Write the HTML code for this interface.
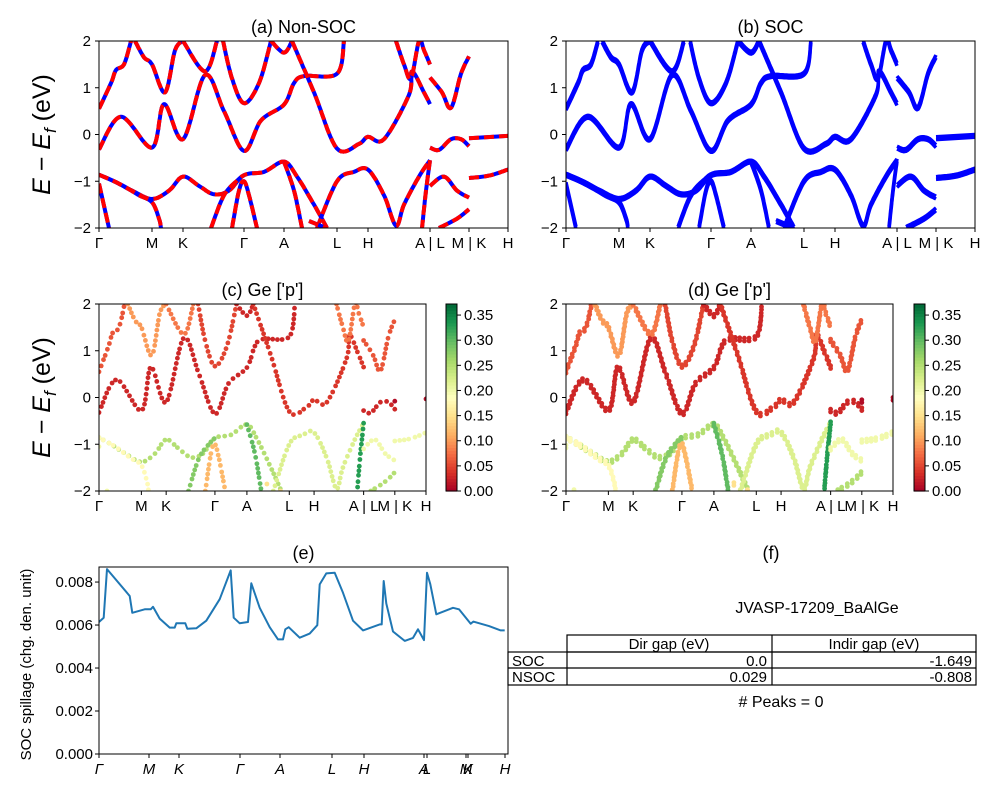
<!DOCTYPE html>
<html><head><meta charset="utf-8"><style>
body{margin:0;background:#fff}
svg{display:block;font-family:"Liberation Sans","DejaVu Sans",sans-serif}
</style></head><body>
<svg id="fig" width="1000" height="800" viewBox="0 0 1000 800"></svg>
<script>
// ---- data ----
const kTickPos = [0, 53, 84, 145, 185, 238, 269, 331, 370, 409];
const kTickLabels = ["Γ","M","K","Γ","A","L","H","A | L","M | K","H"];
const eTicks = [2, 1, 0, -1, -2];
const b1 = [[0,-0.86],[15,-1.0],[33,-1.2],[53,-1.38],[70,-1.2],[84,-0.9],[100,-1.1],[115,-1.28],[130,-1.2],[145,-0.87],[165,-0.8],[185,-0.58],[198,-0.9],[215,-1.5],[228,-2.0]];
const b2 = [[0,-0.86],[20,-1.05],[40,-1.3],[53,-1.45],[60,-1.8],[62,-2.0]];
const b3 = [[0,-1.05],[10,-2.0]];
const b4 = [[112,-2.0],[125,-1.3],[140,-0.95],[145,-0.87]];
const b5 = [[133,-2.0],[140,-1.2],[145,-1.0],[150,-1.3],[158,-2.0]];
const b6 = [[185,-0.58],[195,-1.2],[203,-2.0]];
const b7 = [[218,-2.0],[238,-1.0],[255,-0.8],[269,-0.75],[285,-1.3],[297,-1.95],[305,-1.5],[320,-0.9],[331,-0.55]];
const b8 = [[331,-0.55],[327,-1.2],[323,-2.0]];
const b9 = [[210,-1.85],[227,-2.0]];
const c1 = [[0,-0.32],[22,0.38],[53,-0.28],[65,0.65],[84,-0.1],[106,1.27],[125,0.5],[145,-0.35],[162,0.3],[185,0.64],[195,1.1],[205,1.25],[238,1.3],[245,2.0]];
const c2 = [[0,0.55],[12,1.1],[17,1.38],[25,1.5],[32,2.0]];
const c3 = [[36,2.0],[45,1.65],[53,1.5],[66,0.9],[76,1.8],[84,2.0]];
const c4 = [[84,2.0],[106,1.35],[118,2.0]];
const c5 = [[124,2.0],[133,1.2],[145,0.67],[160,1.1],[172,2.0]];
const c6 = [[172,2.0],[185,1.75],[193,2.0]];
const c7 = [[193,2.0],[215,0.9],[238,-0.3],[260,-0.2],[269,-0.05],[285,-0.1],[310,0.85],[313,1.35],[325,0.9],[331,0.65]];
const c8 = [[297,2.0],[305,1.5],[312,1.2],[320,2.0],[325,1.8],[331,1.5]];
const s1 = [[331,1.22],[343,0.9],[352,0.57],[362,1.3],[370,1.67]];
const s2 = [[331,-0.28],[340,-0.33],[352,-0.1],[362,-0.1],[370,-0.25]];
const s3 = [[331,-1.1],[345,-0.9],[358,-1.2],[370,-1.35]];
const s4 = [[340,-2.0],[358,-1.8],[370,-1.6]];
const t1 = [[370,-0.08],[409,-0.03]];
const t2 = [[370,-0.93],[390,-0.88],[409,-0.75]];
const bands = [b1,b2,b3,b4,b5,b6,b7,b8,b9,c1,c2,c3,c4,c5,c6,c7,c8,s1,s2,s3,s4,t1,t2];
const geWeights = [0.25,0.18,0.2,0.28,0.12,0.3,0.22,0.33,0.15,0.03,0.06,0.1,0.08,0.05,0.03,0.04,0.08,0.06,0.03,0.2,0.25,0.01,0.2];
const cbTicks = [0,0.05,0.1,0.15,0.2,0.25,0.3,0.35];
const spillK = [0,4.7,8,30.7,33.3,45.7,51.7,54,60.7,70.7,75.7,77.3,86.3,88.3,97.3,107.3,120.7,131.7,134.7,140.7,149,152.3,160.7,170.7,179,184,186.3,189.7,200.7,210.7,218.3,220.7,227.3,235.7,244,254,264,280.7,282.7,284.7,287.3,294,305.7,314,319,325,328,331.3,337.3,354,360,371.7,374.3,390,401.7,405.7];
const spillV = [.00614,.00634,.0086,.00735,.00657,.00673,.00673,.00685,.0063,.00588,.00588,.00608,.00608,.00583,.00585,.0062,.0072,.00854,.00634,.00608,.00614,.00794,.0068,.0059,.00533,.00533,.0058,.0059,.00541,.0056,.00599,.00789,.0084,.00843,.0075,.0062,.00575,.00603,.00603,.00805,.0070,.0057,.00526,.0054,.0058,.0053,.00843,.0079,.0065,.0068,.00673,.00606,.00616,.00595,.00575,.00575];
const spillTickPos = [0,50,80,141,181,233,265,325,328,367,369,406];
const spillTickLabels = ["Γ","M","K","Γ","A","L","H","A","L","M","K","H"];
const spillYTicks = [0,0.002,0.004,0.006,0.008];

// ---- helpers ----
const svg = document.getElementById('fig');
const NS = 'http://www.w3.org/2000/svg';
function mk(tag, attrs, parent){const e=document.createElementNS(NS,tag);for(const k in attrs)e.setAttribute(k,attrs[k]);(parent||svg).appendChild(e);return e;}
function txt(x,y,s,size,anchor,parent,extra){const t=mk('text',Object.assign({x:x,y:y,'font-size':size,'text-anchor':anchor||'middle',fill:'#000'},extra||{}),parent);t.textContent=s;return t;}
function lerp(a,b,t){return a+(b-a)*t;}
// Catmull-Rom smoothing of screen points
function smooth(P){
  if(P.length<3)return P;
  const out=[];
  for(let i=0;i<P.length-1;i++){
    const p0=P[Math.max(0,i-1)],p1=P[i],p2=P[i+1],p3=P[Math.min(P.length-1,i+2)];
    const n=Math.max(2,Math.round(Math.hypot(p2[0]-p1[0],p2[1]-p1[1])/2));
    for(let s=0;s<n;s++){const t=s/n,t2=t*t,t3=t2*t;
      out.push([0,1].map(j=>0.5*((2*p1[j])+(-p0[j]+p2[j])*t+(2*p0[j]-5*p1[j]+4*p2[j]-p3[j])*t2+(-p0[j]+3*p1[j]-3*p2[j]+p3[j])*t3)));}
  }
  out.push(P[P.length-1]);return out;
}
const cmapStops=[[0,[165,0,38]],[0.1,[215,48,39]],[0.2,[244,109,67]],[0.3,[253,174,97]],[0.4,[254,224,139]],[0.5,[255,255,191]],[0.6,[217,239,139]],[0.7,[166,217,106]],[0.8,[102,189,99]],[0.9,[26,152,80]],[1,[0,104,55]]];
function cmap(v){v=Math.max(0,Math.min(1,v));for(let i=1;i<cmapStops.length;i++){if(v<=cmapStops[i][0]){const a=cmapStops[i-1],b=cmapStops[i];const t=(v-a[0])/(b[0]-a[0]);return 'rgb('+a[1].map((c,j)=>Math.round(lerp(c,b[1][j],t))).join(',')+')';}}return 'rgb(0,104,55)';}
const CBMAX=0.372;

function axesFrame(x0,y0,w,h,name,title){
  const g=mk('g',{});
  
  
  const cid='clip-'+name;
  const cp=mk('clipPath',{id:cid},g);mk('rect',{x:x0,y:y0,width:w,height:h},cp);
  const plot=mk('g',{'clip-path':'url(#'+cid+')'},g);
  
  
  const t=txt(x0+w/2,y0-8,title,18,'middle',g);
  
  
  return {g,plot};
}
function frameBorder(g,x0,y0,w,h){mk('rect',{x:x0,y:y0,width:w,height:h,fill:'none',stroke:'#000','stroke-width':1},g);}

function bandPanel(x0,y0,w,h,name,title,mode,showY){
  const {g,plot}=axesFrame(x0,y0,w,h,name,title);
  const sx=k=>x0+k/409*w, sy=e=>y0+(2-e)/4*h;
  bands.forEach((b,i)=>{
    const P=smooth(b.map(p=>[sx(p[0]),sy(p[1])]));
    const pts=P.map(p=>p[0].toFixed(1)+','+p[1].toFixed(1)).join(' ');
    if(mode==='nsoc'){
      const l1=mk('polyline',{points:pts,fill:'none',stroke:'#0000ff','stroke-width':4,'stroke-linejoin':'round'},plot);
      
      
      const l2=mk('polyline',{points:pts,fill:'none',stroke:'#ff0000','stroke-width':4,'stroke-dasharray':'10,5','stroke-linejoin':'round'},plot);
      
      
    } else if(mode==='soc'){
      [-0.03,0.03].forEach(d=>{
        const P2=smooth(b.map(p=>[sx(p[0]),sy(p[1]+d)]));
        const l=mk('polyline',{points:P2.map(p=>p[0].toFixed(1)+','+p[1].toFixed(1)).join(' '),fill:'none',stroke:'#0000ff','stroke-width':3.5,'stroke-linejoin':'round'},plot);
        
        
      });
    } else {
      const col=cmap(geWeights[i]/CBMAX);
      const offs = mode==='scatter2'?[-0.03,0.03]:[0];
      offs.forEach(d=>{
        const P2=smooth(b.map(p=>[sx(p[0]),sy(p[1]+d)]));
        let acc=5;
        for(let j=0;j<P2.length;j++){
          if(j>0)acc+=Math.hypot(P2[j][0]-P2[j-1][0],P2[j][1]-P2[j-1][1]);
          if(acc>=4.5){acc=0;
            const c=mk('circle',{cx:P2[j][0].toFixed(1),cy:P2[j][1].toFixed(1),r:2.4,fill:col},plot);
            
            
          }
        }
      });
    }
  });
  frameBorder(g,x0,y0,w,h);
  eTicks.forEach(e=>{mk('line',{x1:x0-4,x2:x0,y1:sy(e),y2:sy(e),stroke:'#000'},g);
    const t=txt(x0-8,sy(e)+5,String(e).replace('-','−'),15,'end',g);
    
    });
  kTickPos.forEach((k,i)=>{mk('line',{x1:sx(k),x2:sx(k),y1:y0+h,y2:y0+h+4,stroke:'#000'},g);
    const t=txt(sx(k),y0+h+20,kTickLabels[i],15,'middle',g);
    
    });
  if(showY){
    const t=mk('text',{x:0,y:0,'font-size':25,'text-anchor':'middle',transform:'translate(50,'+(y0+h/2)+') rotate(-90)'},g);
    
    
    t.innerHTML='<tspan font-style="italic">E</tspan> − <tspan font-style="italic">E</tspan><tspan font-size="17" font-style="italic" dy="6">f</tspan><tspan dy="-6"> (eV)</tspan>';
  }
}
function colorbar(x0,y0,w,h,name){
  const g=mk('g',{});
  
  
  const n=60;
  for(let i=0;i<n;i++){mk('rect',{x:x0,y:y0+h-(i+1)*h/n,width:w,height:h/n+0.6,fill:cmap((i+0.5)/n)},g);}
  frameBorder(g,x0,y0,w,h);
  cbTicks.forEach(v=>{const y=y0+h-v/CBMAX*h;mk('line',{x1:x0+w,x2:x0+w+4,y1:y,y2:y,stroke:'#000'},g);
    const t=txt(x0+w+7,y+5,v.toFixed(2),15,'start',g);
    
    });
}

bandPanel(99,41,409,187,'panel-a-non-soc','(a) Non-SOC','nsoc',true);
bandPanel(566,41,409,187,'panel-b-soc','(b) SOC','soc',false);
bandPanel(99,304,327,187,'panel-c-ge-p','(c)  Ge [\'p\']','scatter',true);
colorbar(446,304,11,187,'colorbar-c');
bandPanel(566,304,327,187,'panel-d-ge-p','(d) Ge [\'p\']','scatter2',false);
colorbar(914,304,11,187,'colorbar-d');

// panel e
(function(){
  const x0=99,y0=567,w=409,h=187,ymax=0.0087;
  const {g,plot}=axesFrame(x0,y0,w,h,'panel-e-spillage','(e)');
  const sx=k=>x0+k/409*w, sy=v=>y0+h-v/ymax*h;
  const pts=spillK.map((k,i)=>sx(k).toFixed(1)+','+sy(spillV[i]).toFixed(1)).join(' ');
  const l=mk('polyline',{points:pts,fill:'none',stroke:'#1f77b4','stroke-width':2,'stroke-linejoin':'round'},plot);
  
  
  frameBorder(g,x0,y0,w,h);
  spillYTicks.forEach(v=>{mk('line',{x1:x0-4,x2:x0,y1:sy(v),y2:sy(v),stroke:'#000'},g);
    const t=txt(x0-6,sy(v)+5,v.toFixed(3),15,'end',g);
    
    });
  spillTickPos.forEach((k,i)=>{mk('line',{x1:sx(k),x2:sx(k),y1:y0+h,y2:y0+h+4,stroke:'#000'},g);
    const t=txt(sx(k),y0+h+20,spillTickLabels[i],15,'middle',g,{'font-style':'italic'});
    
    });
  const yt=mk('text',{x:0,y:0,'font-size':15,'text-anchor':'middle',transform:'translate(31,'+(y0+h/2+4)+') rotate(-90)'},g);
  
  
  yt.textContent='SOC spillage (chg. den. unit)';
})();
</script>
<svg width="1000" height="800" style="position:absolute;left:0;top:0;font-family:'Liberation Sans','DejaVu Sans',sans-serif">
  <text x="771" y="559" font-size="18" text-anchor="middle">(f)</text>
  <text x="817" y="613" font-size="16" text-anchor="middle">JVASP-17209_BaAlGe</text>
  <g fill="none" stroke="#000" stroke-width="1.2">
    <rect x="567" y="635" width="409" height="17"/>
    <line x1="772" y1="635" x2="772" y2="685"/>
    <rect x="508" y="652" width="468" height="33"/>
    <line x1="508" y1="668" x2="976" y2="668"/>
    <line x1="567" y1="652" x2="567" y2="685"/>
  </g>
  <g font-size="15">
    <text x="669" y="649" text-anchor="middle">Dir gap (eV)</text>
    <text x="874" y="649" text-anchor="middle">Indir gap (eV)</text>
    <text x="512" y="666">SOC</text>
    <text x="767" y="666" text-anchor="end">0.0</text>
    <text x="972" y="666" text-anchor="end">-1.649</text>
    <text x="512" y="682">NSOC</text>
    <text x="767" y="682" text-anchor="end">0.029</text>
    <text x="972" y="682" text-anchor="end">-0.808</text>
  </g>
  <text x="781" y="707" font-size="16" text-anchor="middle"># Peaks = 0</text>
</svg>
</body></html>
